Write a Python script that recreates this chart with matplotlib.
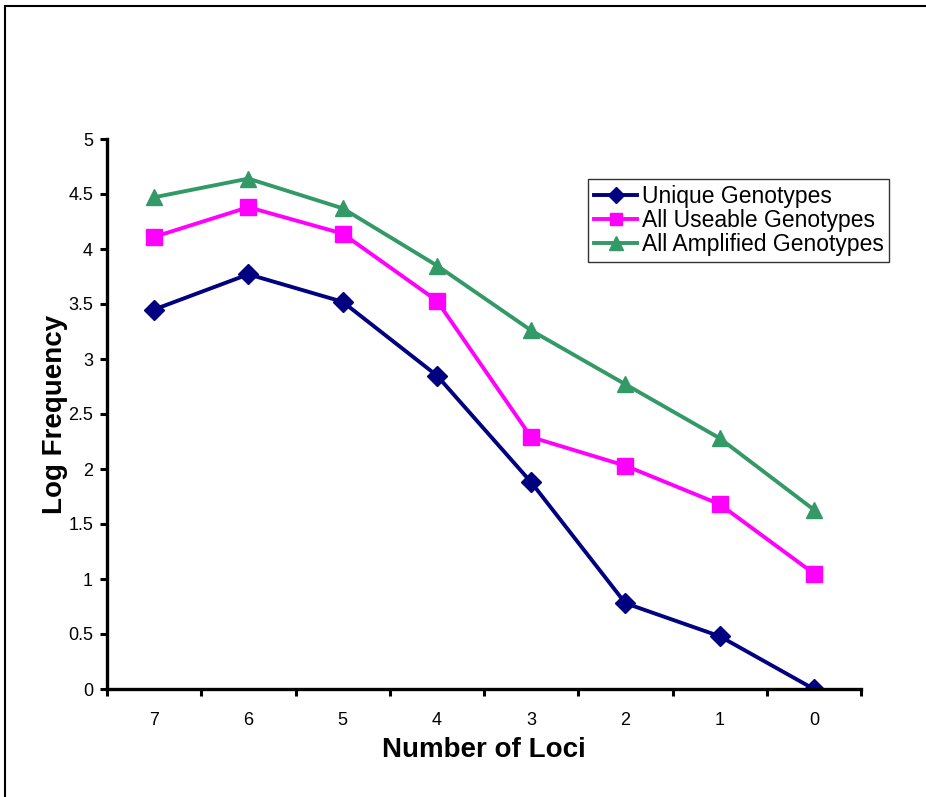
import matplotlib.pyplot as plt
from matplotlib.patches import Rectangle
import numpy as np

plt.rcParams['font.family'] = ['Liberation Sans', 'DejaVu Sans']

loci = ['7', '6', '5', '4', '3', '2', '1', '0']
unique = [3.45, 3.77, 3.52, 2.85, 1.88, 0.78, 0.48, 0.0]
useable = [4.11, 4.38, 4.14, 3.53, 2.29, 2.03, 1.68, 1.05]
amplified = [4.47, 4.64, 4.37, 3.85, 3.26, 2.77, 2.28, 1.63]

fig = plt.figure(figsize=(9.26, 7.97), dpi=100)
# outer chart border (only left and top visible in the crop)
fig.patches.append(Rectangle((5 / 926, -0.1), 1.2, 1 - 6 / 797 + 0.1, transform=fig.transFigure,
                             fill=False, edgecolor='black', linewidth=1.5))
ax = fig.add_axes([107 / 926, 108 / 797, 754 / 926, 550 / 797])

x = np.arange(len(loci))
ax.plot(x, unique, color='#000080', marker='D', markersize=10, linewidth=2.8, label='Unique Genotypes')
ax.plot(x, useable, color='#FF00FF', marker='s', markersize=11, linewidth=2.8, label='All Useable Genotypes')
ax.plot(x, amplified, color='#339966', marker='^', markersize=12, linewidth=2.8, label='All Amplified Genotypes')

ax.set_xlim(-0.5, len(loci) - 0.5)
ax.set_ylim(0, 5)
ax.set_yticks(np.arange(0, 5.01, 0.5))
ax.set_yticklabels(['0', '0.5', '1', '1.5', '2', '2.5', '3', '3.5', '4', '4.5', '5'])
ax.set_xticks(x)
ax.set_xticklabels(loci)
ax.set_xticks(np.arange(-0.5, len(loci), 1), minor=True)
ax.tick_params(axis='x', which='major', length=0, pad=16.5, labelsize=13)
ax.tick_params(axis='x', which='minor', length=5, width=2.2)
ax.tick_params(axis='y', length=5, width=2.2, labelsize=13, pad=5)

for s in ['top', 'right']:
    ax.spines[s].set_visible(False)
for s in ['left', 'bottom']:
    ax.spines[s].set_linewidth(2.4)

ax.set_xlabel('Number of Loci', fontsize=20, fontweight='bold', labelpad=6)
ax.set_ylabel('Log Frequency', fontsize=20, fontweight='bold', labelpad=0)

leg = ax.legend(loc='upper left', bbox_to_anchor=(481 / 754, 1 - 40 / 550), fontsize=16.5,
                frameon=True, fancybox=False, edgecolor='black', handlelength=1.9,
                handletextpad=0.2, borderpad=0.25, labelspacing=0.05, borderaxespad=0,
                markerscale=0.85)
leg.get_frame().set_linewidth(1.0)

fig.savefig('out.png', dpi=100)
